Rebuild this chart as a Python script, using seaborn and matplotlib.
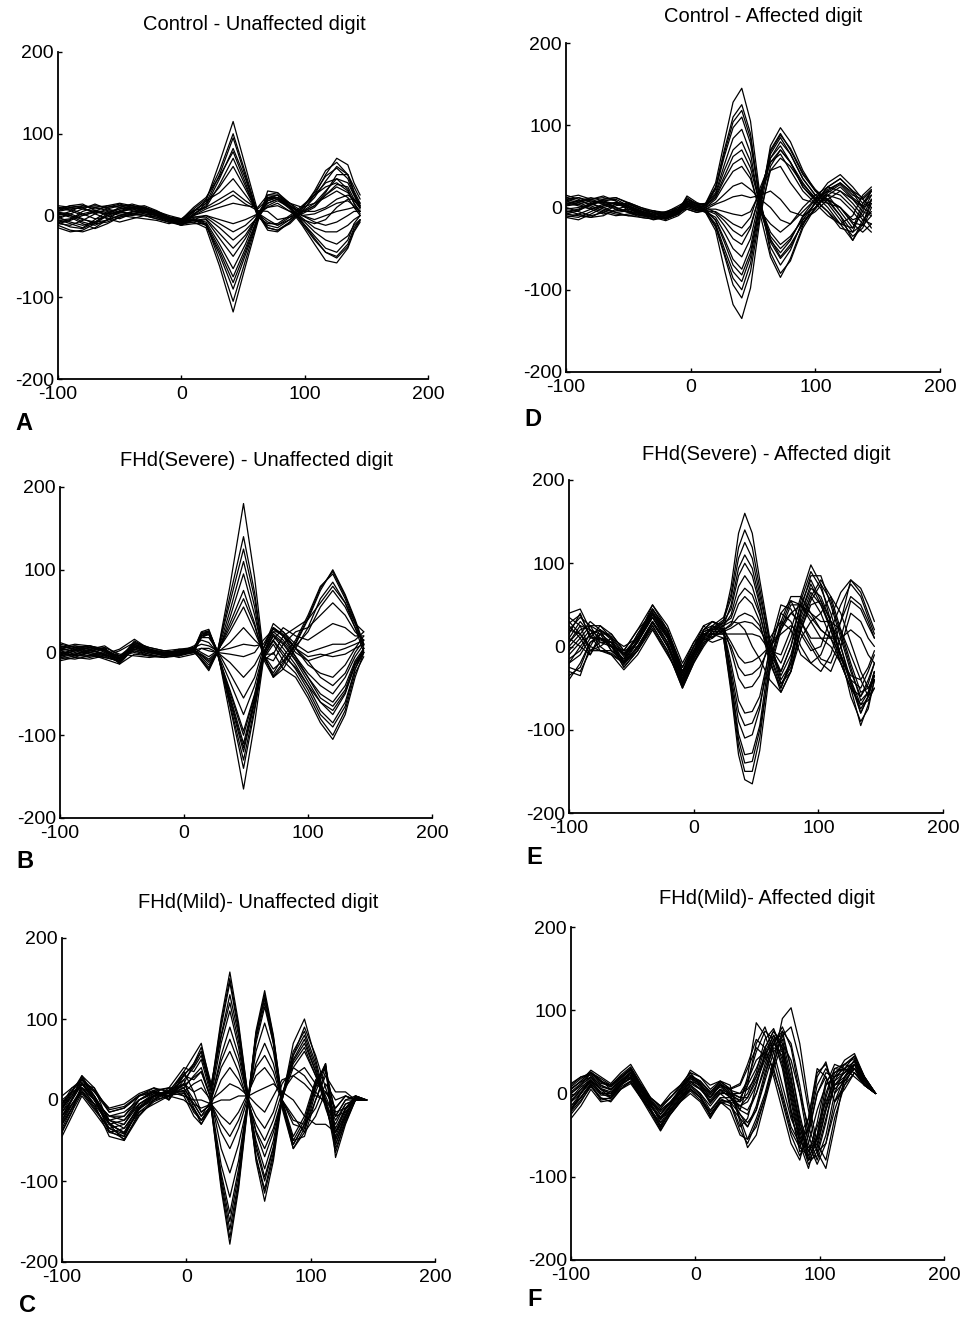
import numpy as np
import pandas as pd
import matplotlib
matplotlib.use("Agg")
import matplotlib.pyplot as plt
import seaborn as sns

# ---------------- data ----------------
TITLES = ["Control - Unaffected digit", "FHd(Severe) - Unaffected digit", "FHd(Mild)- Unaffected digit",
          "Control - Affected digit", "FHd(Severe) - Affected digit", "FHd(Mild)- Affected digit"]
LETTERS = ["A", "B", "C", "D", "E", "F"]
X_TICKS = [-100, 0, 100, 200]
Y_TICKS = [-200, -100, 0, 100, 200]

X_A = [-100,-90,-80,-70,-60,-50,-40,-30,-20,-10,0,10,20,31,42,52,62,70,78,88,98,108,117,126,135,140,145]
A_TRACES = [
    [5,8,10,12,10,12,8,5,0,-5,-8,5,18,65,115,60,5,-15,-18,-10,5,25,50,70,62,40,25],
    [0,5,12,8,10,14,10,6,2,-4,-6,8,20,55,100,52,2,-18,-20,-8,8,30,55,65,50,30,15],
    [-8,-5,5,10,12,10,6,2,-2,-8,-10,2,12,45,82,45,0,-12,-15,-5,10,28,48,58,45,25,10],
    [10,6,0,5,12,15,12,8,4,-2,-5,10,22,48,78,40,-2,-10,-10,0,12,25,35,40,30,15,5],
    [-5,-10,-15,-5,5,8,10,5,0,-6,-10,0,15,35,60,32,3,-5,-12,-5,5,15,22,30,22,10,0],
    [2,0,-8,-12,-5,5,8,10,4,-3,-8,4,18,28,45,25,5,10,15,5,-5,-10,-5,10,20,20,15],
    [12,10,8,5,2,4,8,10,5,0,-4,6,10,20,30,18,8,20,22,10,-10,-30,-45,-50,-35,-15,-5],
    [-12,-18,-20,-15,-5,0,4,6,2,-2,-6,0,5,10,15,12,10,25,25,12,-8,-25,-40,-45,-30,-10,0],
    [4,2,-4,-10,-8,-2,2,0,-4,-8,-12,-5,0,-5,-10,-5,2,15,20,8,-12,-35,-55,-58,-40,-20,-8],
    [-6,-4,2,6,4,0,-2,-4,-6,-10,-6,-2,-2,-15,-30,-18,-2,12,18,10,-5,-20,-30,-35,-25,-12,-5],
    [8,12,10,2,-4,-8,-4,0,-4,-8,-10,-8,-5,-28,-50,-28,0,18,22,10,-3,-15,-20,-20,-12,-5,0],
    [-2,-8,-12,-8,0,6,10,8,2,-4,-8,-5,-8,-35,-65,-35,2,22,25,12,0,-8,-12,-8,0,5,5],
    [6,10,12,10,6,2,0,2,0,-6,-12,-10,-10,-40,-75,-40,-2,20,25,15,5,5,10,20,25,20,10],
    [-10,-12,-6,2,8,12,12,8,4,-4,-8,-6,-12,-48,-90,-48,-5,18,22,15,10,15,30,45,40,25,12],
    [3,0,-5,-8,-6,0,5,8,5,-2,-6,-4,-10,-55,-105,-55,-5,25,28,12,2,10,25,38,35,20,8],
    [-15,-20,-18,-10,0,5,2,0,-2,-6,-10,-8,-15,-62,-118,-62,-8,30,28,15,0,-5,0,5,8,10,5],
    [-4,2,8,14,8,4,2,4,0,-6,-6,6,15,50,95,48,0,-15,-18,-8,6,22,42,60,50,28,12],
    [6,12,14,6,0,-4,2,6,2,-4,-10,2,10,38,70,36,2,-8,-12,-2,10,25,40,45,32,15,2],
    [-10,-6,0,4,2,8,12,10,4,-2,-4,-2,0,-10,-20,-12,2,10,12,5,0,2,8,15,18,12,5],
    [2,-2,-10,-16,-10,-2,2,4,0,-6,-10,-6,-4,-22,-40,-24,0,15,20,10,-8,-28,-45,-52,-38,-18,-6],
    [10,8,2,-4,-2,4,10,12,6,-2,-8,-4,-12,-44,-82,-44,-3,22,22,12,4,12,28,50,50,35,20],
    [-8,-14,-16,-8,2,10,14,10,2,-6,-12,0,8,15,25,14,6,5,-5,-2,4,12,25,35,28,18,10],
]

X_B = [-100,-88,-76,-64,-52,-40,-28,-16,-4,8,14,20,27,37,48,57,64,72,80,90,100,110,120,130,138,145]
B_TRACES = [
    [5,8,6,2,-4,10,2,-2,4,2,-10,-22,0,80,180,90,0,-30,-15,10,40,75,100,70,40,10],
    [-3,2,6,4,-8,14,4,0,2,0,-8,-18,2,60,125,65,-5,-25,-5,15,45,80,95,65,35,5],
    [8,4,-2,-6,-10,8,0,-4,-2,4,-6,-15,0,50,110,55,-8,-30,-20,5,30,65,85,60,30,0],
    [-6,-8,-4,2,-12,12,6,2,0,2,-4,-12,-2,42,95,45,-2,-20,-10,8,25,55,75,55,30,10],
    [10,6,0,-4,-6,4,-2,-6,-4,0,-3,-10,0,35,75,35,-5,-10,10,25,30,45,60,45,25,15],
    [-10,-6,2,6,-2,-4,-6,-4,2,5,0,-5,2,25,55,25,0,15,30,20,15,25,35,30,20,20],
    [2,-2,-6,-2,4,16,4,-2,-6,-2,5,5,0,12,30,15,5,25,25,10,0,5,10,10,15,25],
    [6,10,8,2,-8,6,0,2,4,6,10,8,2,5,10,8,10,30,20,0,-10,-5,0,5,10,15],
    [-4,-2,2,6,-14,-2,-4,-2,0,8,15,12,0,-12,-30,-15,5,35,25,5,-15,-25,-30,-15,5,20],
    [4,8,4,-2,-10,10,2,-2,-4,6,18,18,2,-25,-55,-30,5,30,20,-5,-25,-40,-50,-30,-5,10],
    [-8,-4,0,4,-6,2,-2,0,2,4,20,22,0,-35,-75,-40,0,25,15,-5,-30,-50,-60,-40,-10,5],
    [12,6,2,-2,-12,8,2,-4,-4,2,22,25,-2,-45,-95,-50,-2,20,10,-10,-35,-60,-75,-50,-15,0],
    [0,-6,-8,-4,2,12,6,2,0,4,24,26,0,-52,-110,-55,0,20,5,-15,-40,-70,-85,-60,-20,5],
    [-6,-2,4,8,-4,0,-4,-6,-2,0,20,24,-2,-58,-120,-60,-5,15,0,-20,-45,-75,-90,-65,-20,0],
    [4,2,-2,-8,-14,6,0,-2,2,4,25,28,0,-65,-140,-70,-8,10,-10,-25,-50,-80,-100,-70,-25,-5],
    [-2,4,8,4,-6,10,4,0,-2,0,20,25,2,-75,-165,-85,-10,0,-20,-30,-55,-85,-105,-75,-30,0],
    [2,6,4,-2,-8,12,3,-2,2,2,-9,-20,1,68,140,72,-4,-28,-12,12,42,78,98,68,38,8],
    [6,0,-4,-6,-10,4,0,-3,2,6,20,22,-1,-48,-100,-52,-4,22,12,-8,-30,-55,-65,-45,-12,2],
    [-5,2,6,2,-8,8,2,-2,0,2,22,26,1,-62,-130,-66,-6,14,-4,-18,-40,-60,-70,-48,-15,5],
    [0,-4,-4,0,-4,2,-4,-6,0,3,-2,-8,1,30,65,32,-2,-2,20,30,40,60,80,60,35,25],
    [8,4,0,-4,-12,6,4,0,-2,2,18,22,0,-55,-115,-58,-4,30,22,5,-10,-30,-40,-25,0,15],
    [-4,6,8,4,-10,8,2,-4,-2,3,5,2,0,-2,-5,0,15,28,20,5,-5,-2,-5,-2,5,10],
]

X_C = [-100,-92,-84,-74,-62,-50,-38,-26,-14,-2,6,12,20,28,35,42,50,56,63,70,77,86,95,104,112,120,128,136,145]
C_TRACES = [
    [-10,5,25,10,-15,-10,5,10,5,35,55,70,15,100,158,95,0,-75,-125,-75,0,70,100,50,0,-65,-25,0,0],
    [-40,-15,20,15,-30,-25,-5,8,10,25,40,55,10,90,145,85,-5,-70,-115,-70,5,60,85,45,-5,-55,-20,5,0],
    [-20,0,30,5,-40,-45,-10,5,12,20,45,65,20,80,130,80,0,-60,-100,-60,0,50,75,35,-10,-45,-15,0,0],
    [0,10,28,0,-20,-15,0,12,15,40,35,50,5,70,110,65,-5,-50,-85,-50,5,45,65,30,0,-35,-10,0,0],
    [-30,-10,15,-5,-45,-50,-15,0,5,15,30,40,0,55,90,55,0,-40,-70,-40,0,55,90,55,15,-20,0,5,0],
    [-5,15,25,10,-10,-5,8,15,0,30,25,35,0,40,60,35,-5,-30,-50,-25,10,30,40,20,10,-10,5,0,0],
    [-25,-5,10,-10,-35,-30,-5,5,10,10,20,25,-5,25,40,25,0,-20,-35,-15,20,40,30,10,-5,-30,-5,0,0],
    [-15,0,20,5,-25,-20,0,10,5,20,10,15,0,10,20,15,5,-5,-15,5,25,30,20,5,0,-20,0,0,0],
    [-45,-20,5,-15,-40,-35,-10,0,15,5,0,0,-5,0,0,5,5,10,15,20,10,0,-20,-30,-30,-40,-10,5,0],
    [5,15,20,0,-20,-20,5,15,10,35,10,-15,-5,-20,-30,-15,10,30,40,25,0,-20,-40,-20,10,-10,5,0,0],
    [-20,-5,15,0,-30,-40,-15,-5,5,0,-10,-25,-5,-40,-60,-35,5,45,70,45,0,-30,-35,0,30,10,10,0,0],
    [-35,-10,10,-5,-20,-25,0,10,15,15,-5,-20,0,-60,-90,-55,0,60,95,60,-5,-50,-45,0,35,-15,-10,0,0],
    [-10,10,30,15,-15,-10,5,10,0,25,-10,-30,-5,-80,-120,-75,5,70,115,70,-5,-60,-40,10,40,-20,-15,0,0],
    [-25,0,20,0,-35,-45,-10,5,10,10,-15,-25,-10,-90,-140,-85,5,80,125,75,-5,-55,-30,20,45,-40,-20,5,0],
    [-15,5,25,5,-25,-30,0,8,5,20,0,-15,-5,-100,-160,-100,5,85,135,80,0,-45,-20,25,40,-55,-25,0,0],
    [-5,10,15,-5,-30,-50,-20,0,10,5,-20,-30,-10,-110,-178,-110,0,75,120,70,-10,-60,-35,15,45,-71,-30,0,0],
    [-30,-10,15,5,-25,-35,-8,6,12,30,45,60,15,95,150,90,0,-70,-110,-65,5,55,80,40,-5,-50,-18,3,0],
    [-20,2,22,2,-30,-40,-5,6,8,15,-5,-20,-8,-95,-150,-92,5,80,130,78,0,-50,-25,22,42,-48,-22,3,0],
    [-12,8,20,0,-28,-42,-12,4,8,12,-12,-25,-10,-105,-170,-105,2,82,128,75,-5,-55,-30,18,42,-60,-28,0,0],
    [-8,12,26,12,-12,-8,6,12,2,32,42,60,12,78,120,72,-2,-55,-95,-58,5,48,70,35,-5,-40,-12,2,0],
    [-28,-6,12,-8,-38,-48,-18,-2,6,8,-5,-10,-5,-30,-45,-25,8,40,55,35,0,-25,-30,-10,20,0,5,0,0],
    [-38,-14,8,-12,-35,-42,-10,2,10,18,28,35,2,48,75,46,-2,-38,-60,-35,2,40,60,30,5,-25,-5,0,0],
]

X_D = [-100,-90,-80,-70,-60,-50,-40,-30,-20,-10,-3,5,12,20,27,34,41,48,56,64,72,80,90,100,110,120,130,138,145]
D_TRACES = [
    [10,12,8,6,5,0,-5,-8,-5,0,5,2,5,30,80,128,145,105,10,-55,-80,-65,-25,0,20,30,15,10,20],
    [5,8,10,12,8,-2,-8,-10,-6,2,8,4,5,25,70,110,125,90,0,-48,-70,-52,-15,5,25,35,20,5,15],
    [-8,-4,4,10,12,6,0,-4,-8,-2,12,4,2,24,66,104,118,84,4,-42,-62,-48,-18,-2,18,28,12,2,8],
    [-5,-2,5,10,12,5,-2,-6,-8,-2,10,5,3,22,62,97,110,78,5,-38,-60,-45,-20,0,15,25,10,0,5],
    [12,15,10,5,0,-5,-10,-12,-8,0,6,2,4,18,52,84,95,66,-5,-40,-55,-40,-10,10,30,40,25,10,0],
    [-12,-8,-2,4,6,2,-6,-10,-14,-6,4,0,2,16,45,70,80,56,0,-35,-50,-38,-12,5,22,30,18,0,-8],
    [0,-5,-10,-6,2,6,0,-6,-10,-4,4,0,2,14,38,62,70,48,0,-30,-45,-35,-15,-5,10,20,10,-5,-10],
    [-10,-12,-5,2,6,4,-2,-8,-12,-6,2,-2,0,10,28,44,50,35,-5,-20,-30,-20,-5,10,20,15,0,-15,-20],
    [8,4,-2,-8,-4,-2,-6,-10,-14,-8,0,-4,0,6,16,26,30,22,10,0,-15,-20,0,15,25,20,5,-10,-25],
    [-2,0,4,8,10,2,-4,-12,-16,-10,-2,-6,-2,4,8,13,15,12,15,20,10,-5,-10,0,15,10,-5,-20,-30],
    [15,10,2,-4,-8,-10,-12,-14,-12,-6,3,-2,-2,-2,-5,-8,-10,-5,20,45,50,30,10,5,10,0,-15,-10,10],
    [3,6,10,14,8,-4,-10,-8,-6,-4,-2,-6,-4,-5,-12,-20,-25,-12,25,55,65,45,20,5,-10,-20,-10,15,25],
    [12,8,4,0,-6,-10,-8,-4,-6,-2,6,2,0,-6,-16,-28,-35,-22,18,55,70,55,25,8,-5,-20,-25,5,20],
    [-8,-10,-12,-4,4,0,-8,-15,-12,-6,4,0,-3,-8,-22,-38,-45,-25,20,60,75,55,25,10,-5,-25,-30,0,20],
    [6,2,-2,2,6,4,-2,-6,-10,-6,0,-4,-5,-12,-30,-50,-60,-38,15,65,85,65,35,15,0,-20,-40,-20,10],
    [-12,-15,-8,0,4,2,-4,-10,-14,-8,2,-3,-5,-15,-38,-63,-75,-48,10,70,90,70,40,20,5,-15,-35,-25,0],
    [4,8,12,8,0,-6,-12,-14,-10,-4,8,2,-2,-16,-42,-70,-82,-55,8,68,88,72,42,22,8,-10,-30,-20,5],
    [10,6,0,-6,-10,-8,-6,-4,-8,-4,4,0,-5,-20,-50,-78,-90,-60,5,75,97,80,45,20,10,-10,-40,-15,-5],
    [-4,-8,-12,-10,-2,2,-4,-10,-12,-6,8,2,-6,-22,-55,-86,-100,-68,0,60,80,65,35,15,15,-5,-25,-5,15],
    [8,12,6,-2,-6,-4,-8,-12,-10,-4,10,4,-4,-24,-58,-94,-110,-78,-5,45,60,50,28,12,10,0,-18,-22,-10],
    [2,4,8,4,-2,-6,-10,-12,-14,-8,2,-2,-6,-28,-75,-118,-135,-98,-10,50,70,55,30,10,5,0,-20,-30,-20],
    [-6,-3,3,8,4,0,-6,-12,-10,-5,14,6,2,12,34,53,60,40,-10,-60,-85,-62,-22,8,25,35,20,12,22],
]

X_E = [-100,-91,-83,-75,-66,-56,-45,-33,-21,-9,0,8,15,24,30,36,41,47,53,61,70,78,86,94,102,110,118,126,134,140,145]
E_TRACES = [
    [40,45,20,15,5,-10,10,45,15,-40,-10,15,20,30,72,136,160,136,80,10,-40,-20,30,60,40,10,-20,-50,-60,-40,-20],
    [-30,-35,0,20,10,-20,5,35,5,-45,-15,10,25,35,63,119,140,119,70,5,-45,-30,20,50,55,30,0,-40,-70,-65,-50],
    [20,35,25,5,0,-25,-5,30,0,-35,-5,20,30,25,50,94,110,94,55,-10,-50,-20,40,75,50,20,-10,-60,-90,-75,-40],
    [0,15,30,20,-5,-15,15,40,20,-30,0,25,15,30,45,85,100,85,50,0,-30,0,55,90,70,40,0,-45,-80,-60,-30],
    [-20,-10,10,25,15,-5,0,25,-5,-50,-20,5,10,25,38,72,85,72,42,-15,-55,-30,25,60,80,60,20,-20,-55,-50,-35],
    [35,25,-5,0,10,0,10,50,25,-20,5,15,20,20,27,51,60,51,30,-20,-50,-15,45,85,85,50,10,-30,-60,-45,-20],
    [10,30,15,-5,-10,-28,-10,20,-10,-40,-10,10,15,20,25,36,40,36,25,-10,-30,0,40,70,60,30,-10,-40,-50,-30,-10],
    [-40,-20,5,10,5,-10,5,35,10,-35,-5,20,25,15,15,15,15,15,12,-5,-10,20,60,98,75,30,-15,-35,-40,-25,-5],
    [25,10,-10,15,15,-5,20,40,15,-25,0,15,10,20,5,-12,-20,-18,-12,0,20,40,50,40,20,10,30,60,50,30,10],
    [-10,5,20,0,-10,-20,0,30,5,-45,-15,5,20,25,-5,-38,-50,-48,-35,10,30,20,-10,-20,-10,20,50,75,60,35,15],
    [15,40,10,10,0,-15,15,45,20,-30,0,20,30,20,-20,-65,-80,-78,-60,-5,40,30,0,-20,-30,-10,30,80,70,50,30],
    [-25,-30,-5,5,5,-25,-5,25,-5,-50,-20,0,15,15,-35,-90,-110,-106,-75,0,50,45,20,0,-20,-30,0,40,30,10,0],
    [5,20,25,25,10,-10,10,35,5,-40,-10,10,25,20,-40,-105,-130,-128,-95,-10,40,55,30,10,10,10,10,20,10,-10,-20],
    [30,15,-5,-5,-5,-20,0,30,0,-45,-10,15,15,10,-50,-120,-150,-150,-110,-20,30,60,60,40,30,30,20,-10,-40,-60,-50],
    [-35,-25,5,15,-5,-15,5,40,15,-35,-5,10,5,10,-55,-130,-160,-165,-125,-30,20,50,50,30,10,0,-20,-50,-95,-70,-40],
    [10,0,-10,10,0,-5,20,50,20,-25,5,25,30,25,30,28,20,0,-15,-40,-55,-30,10,30,40,60,40,5,-30,-50,-40],
    [28,38,12,8,2,-18,8,42,12,-42,-12,12,22,32,58,106,125,106,62,5,-35,-10,35,65,50,25,-10,-45,-75,-60,-35],
    [-15,-5,15,20,8,-22,-2,28,2,-48,-18,2,18,18,-28,-78,-95,-92,-70,-15,25,40,30,5,-15,-20,10,55,45,25,10],
    [5,25,20,10,5,-12,5,38,12,-38,-8,18,22,28,34,60,70,62,38,-8,-45,-25,20,55,75,55,15,-25,-65,-55,-30],
    [-5,10,25,18,0,-18,8,45,18,-32,0,18,20,22,-45,-112,-140,-138,-100,-25,25,55,50,35,20,10,-10,-40,-80,-60,-35],
    [20,15,0,-5,-8,-20,-5,22,-8,-45,-15,8,12,18,22,28,30,28,20,0,-20,10,50,80,55,20,-20,-50,-70,-55,-30],
    [-20,0,15,20,12,-8,12,38,10,-30,-5,15,15,15,0,-25,-35,-33,-25,0,15,25,15,-5,0,35,65,80,65,40,20],
]

X_F = [-100,-92,-84,-76,-68,-60,-52,-44,-36,-28,-20,-12,-4,4,12,20,28,36,42,49,56,63,70,77,84,91,98,105,112,120,128,136,145]
F_TRACES = [
    [0,10,25,15,10,20,30,10,-10,-20,-10,5,20,15,0,10,0,-10,20,85,70,40,0,-40,-60,-40,10,30,10,20,40,20,0],
    [-10,5,20,10,5,15,25,5,-15,-30,-15,0,15,5,-5,5,-5,-20,10,60,80,50,10,-30,-55,-45,0,25,20,25,35,15,0],
    [-20,0,15,5,0,10,20,0,-20,-40,-20,-5,10,0,-15,0,-10,-40,-30,10,50,70,40,-20,-70,-60,-20,10,20,30,45,20,0],
    [5,15,28,20,12,25,35,15,-5,-15,-5,10,25,20,5,15,5,-20,-25,0,30,60,75,30,-30,-80,-50,0,30,35,30,10,0],
    [-25,-10,10,-5,-10,5,15,-5,-20,-35,-25,-10,5,-5,-25,-10,-20,-50,-55,-30,0,40,90,103,60,-10,-60,-80,-30,10,25,15,0],
    [-5,5,15,0,-5,10,25,5,-10,-25,-10,5,28,20,10,15,10,-35,-65,-50,-10,30,60,40,0,-40,-70,-90,-40,20,35,15,0],
    [10,20,22,12,10,22,32,12,-5,-15,0,10,25,10,-5,10,0,-30,-55,-40,-5,35,75,60,10,-50,-80,-50,0,30,20,10,0],
    [-15,-5,12,0,0,12,18,0,-15,-30,-20,-5,10,0,-20,-5,-5,-15,-5,20,55,75,55,0,-50,-85,-70,-30,10,25,40,15,0],
    [-30,-15,5,-10,-8,5,12,-5,-25,-45,-25,-10,0,-10,-30,-10,-10,-25,-35,-20,15,50,65,20,-40,-75,-60,-20,10,15,30,15,0],
    [0,10,20,5,0,15,20,5,-10,-20,-10,0,15,10,-10,0,0,0,15,40,50,30,-10,-50,-75,-50,0,20,-10,10,35,10,0],
    [5,15,25,18,10,20,28,8,-10,-22,-12,5,20,10,0,10,5,10,30,55,45,20,-20,-60,-80,-40,20,38,0,15,30,15,0],
    [-10,0,18,8,5,15,22,2,-12,-35,-18,-3,12,5,-8,5,0,-5,-5,15,40,60,45,-10,-60,-90,-50,10,35,30,25,10,0],
    [-20,-5,10,-8,-5,8,15,-2,-20,-40,-22,-8,5,-5,-25,-8,-10,-15,-10,10,45,65,35,-20,-50,-30,30,20,-10,5,25,10,0],
    [8,18,26,16,5,18,30,10,-8,-18,-5,8,22,12,-5,12,2,-5,10,30,55,75,60,10,-40,-70,-40,-10,15,25,35,15,0],
    [-5,8,16,5,-5,10,20,0,-15,-30,-15,2,18,8,-12,2,-2,-25,-40,-20,20,60,80,55,0,-60,-85,-60,-10,20,30,10,0],
    [-15,0,14,2,-3,12,25,5,-18,-42,-20,-6,8,-2,-28,-12,-8,-10,0,25,65,78,50,-5,-55,-80,-65,-20,20,40,48,20,0],
    [2,12,24,14,8,18,28,8,-8,-25,-12,2,18,12,-2,8,-2,-8,15,50,75,65,30,-25,-65,-75,-35,15,25,30,38,18,0],
    [-18,-4,12,-2,-2,10,18,-2,-18,-38,-20,-6,6,-4,-22,-6,-12,-45,-60,-35,-5,35,70,80,40,-20,-70,-60,-20,15,30,12,0],
    [6,14,20,10,4,16,26,6,-12,-28,-14,4,22,15,2,14,6,12,35,65,55,25,-5,-45,-65,-30,25,35,5,18,35,15,0],
    [-8,2,16,6,2,14,24,4,-14,-32,-16,-2,14,6,-10,4,-4,-15,-20,0,35,65,70,30,-25,-70,-55,-15,25,35,42,18,0],
    [-22,-8,8,-6,-6,6,14,-4,-22,-44,-24,-9,3,-8,-26,-10,-15,-30,-40,-15,25,55,50,5,-45,-80,-75,-35,15,35,45,20,0],
    [12,20,24,14,8,20,30,10,-6,-16,-4,6,20,14,2,12,4,0,5,20,45,70,55,15,-35,-65,-55,-5,30,28,30,12,0],
]

# ---------------- layout (pixels in a 961 x 1318 figure) ----------------
W, H = 961, 1318
RECTS = {  # (left, right, top, bottom) of each axes box
    "A": (58, 428, 52, 379), "B": (60, 432, 487, 818), "C": (62, 435, 938, 1262),
    "D": (566, 940, 43, 372), "E": (569, 943, 480, 813), "F": (571, 944, 927, 1260),
}
TITLE_POS = {"A": (254, 24), "B": (256, 460), "C": (258, 903),
             "D": (763, 17), "E": (766, 455), "F": (767, 898)}
LETTER_POS = {"A": (24, 424), "B": (25, 862), "C": (27, 1305),
              "D": (533, 419), "E": (534, 857), "F": (535, 1300)}

DATA = {"A": (X_A, A_TRACES), "B": (X_B, B_TRACES), "C": (X_C, C_TRACES),
        "D": (X_D, D_TRACES), "E": (X_E, E_TRACES), "F": (X_F, F_TRACES)}

sns.set_style("ticks")
plt.rcParams["font.family"] = ["Liberation Sans", "DejaVu Sans"]
plt.rcParams["axes.unicode_minus"] = False
plt.rcParams["text.color"] = "black"

fig = plt.figure(figsize=(W / 100, H / 100), dpi=100)
fig.patch.set_facecolor("white")

for letter, title in zip(LETTERS, TITLES):
    l, r, t, b = RECTS[letter]
    ax = fig.add_axes([l / W, 1 - b / H, (r - l) / W, (b - t) / H])
    xs, traces = DATA[letter]
    rows = []
    for i, tr in enumerate(traces):
        for xv, yv in zip(xs, tr):
            rows.append((i, xv, yv))
    df = pd.DataFrame(rows, columns=["trace", "x", "y"])
    sns.lineplot(data=df, x="x", y="y", units="trace", estimator=None,
                 color="black", linewidth=0.9, ax=ax, legend=False)
    ax.set_xlim(-100, 200)
    ax.set_ylim(-200, 200)
    ax.set_xticks(X_TICKS)
    ax.set_yticks(Y_TICKS)
    ax.set_xlabel("")
    ax.set_ylabel("")
    ax.set_facecolor("white")
    for s in ("top", "right"):
        ax.spines[s].set_visible(False)
    for s in ("left", "bottom"):
        ax.spines[s].set_linewidth(1.3)
        ax.spines[s].set_color("black")
    ax.tick_params(axis="both", direction="in", length=3, width=1.0,
                   labelsize=14, colors="black")
    ax.tick_params(axis="x", pad=5)
    ax.tick_params(axis="y", pad=3)
    tx, ty = TITLE_POS[letter]
    fig.text(tx / W, 1 - ty / H, title, ha="center", va="center",
             fontsize=14.5, color="black")
    lx, ly = LETTER_POS[letter]
    fig.text(lx / W, 1 - ly / H, letter, ha="center", va="center",
             fontsize=17, fontweight="bold", color="black")

fig.savefig("out.png", dpi=100, facecolor="white")
